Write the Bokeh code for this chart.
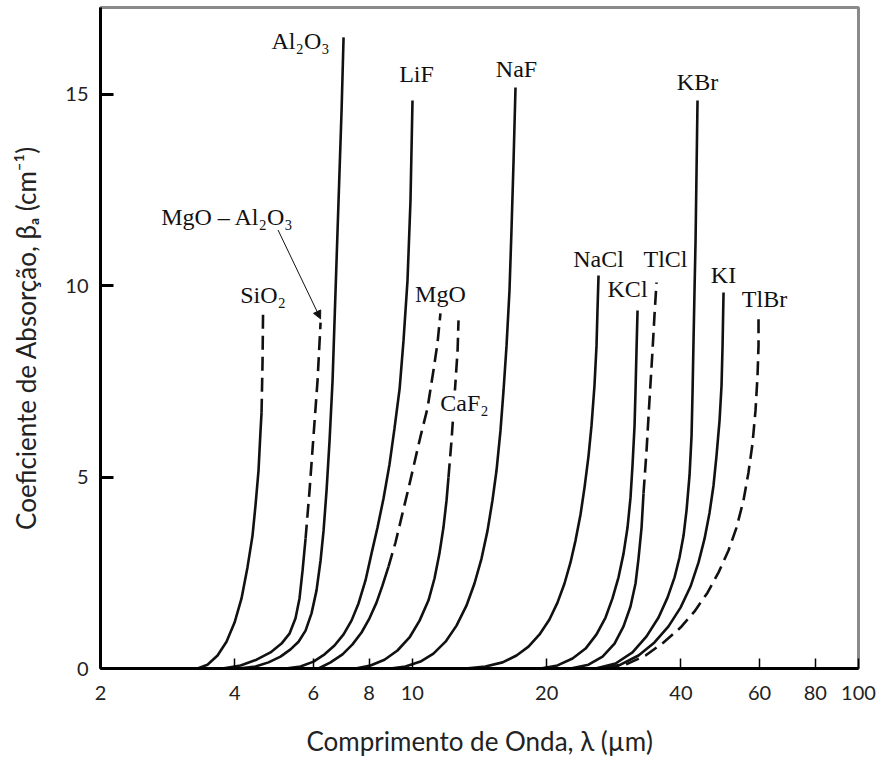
from bokeh.plotting import figure
from bokeh.models import Range1d, FixedTicker, PrintfTickFormatter, Label, Arrow, NormalHead
from bokeh.embed import file_html
from bokeh.resources import INLINE

# Absorption edges of infrared window materials:
# wavelength (µm) and absorption coefficient beta_a (cm^-1) along each curve.
SIO2_LAM = [3.30, 3.474, 3.659, 3.832, 3.995, 4.141, 4.270, 4.383, 4.451, 4.521,
            4.568, 4.592, 4.616, 4.628]
SIO2_BETA = [0.00, 0.10, 0.34, 0.70, 1.20, 1.83, 2.64, 3.47, 4.26, 5.17,
             6.21, 6.68, 8.04, 9.30]

SPINEL_LAM = [3.754, 4.120, 4.475, 4.809, 5.090, 5.304, 5.472, 5.586, 5.675, 5.763,
              5.883, 6.005, 6.131, 6.227]
SPINEL_BETA = [0.00, 0.08, 0.23, 0.42, 0.65, 0.91, 1.31, 1.83, 2.56, 3.39,
               4.65, 6.08, 7.52, 9.03]

AL2O3_LAM = [4.077, 4.452, 4.760, 5.064, 5.333, 5.558, 5.763, 5.943, 6.099, 6.227,
             6.324, 6.423, 6.523, 6.625, 6.728, 6.833, 6.940, 7.012]
AL2O3_BETA = [0.00, 0.05, 0.16, 0.31, 0.50, 0.70, 0.99, 1.44, 2.04, 2.82,
              3.60, 4.65, 5.95, 7.52, 9.87, 12.22, 14.57, 16.48]

LIF_LAM = [5.196, 5.615, 6.005, 6.357, 6.692, 7.012, 7.305, 7.574, 7.852, 8.099,
           8.354, 8.617, 8.888, 9.120, 9.365, 9.554, 9.753, 9.905, 10.008]
LIF_BETA = [0.00, 0.05, 0.18, 0.37, 0.60, 0.89, 1.25, 1.70, 2.30, 3.00,
            3.68, 4.44, 5.33, 6.27, 7.31, 8.56, 10.13, 12.22, 14.83]

MGO_LAM = [6.163, 6.557, 6.975, 7.343, 7.693, 8.016, 8.311, 8.573, 8.842, 9.167,
           9.503, 9.803, 10.11, 10.43, 10.81, 11.15, 11.39, 11.56]
MGO_BETA = [0.00, 0.16, 0.37, 0.63, 0.94, 1.31, 1.72, 2.17, 2.66, 3.29,
            4.05, 4.70, 5.38, 6.06, 6.79, 7.78, 8.51, 9.27]

CAF2_LAM = [7.458, 8.057, 8.662, 9.261, 9.854, 10.38, 10.87, 11.21, 11.50, 11.74,
            11.93, 12.05, 12.24, 12.37, 12.50, 12.63, 12.69]
CAF2_BETA = [0.00, 0.08, 0.23, 0.47, 0.81, 1.25, 1.78, 2.35, 3.00, 3.68,
             4.39, 4.99, 5.95, 6.74, 7.52, 8.30, 9.09]

NAF_LAM = [8.934, 9.653, 10.43, 11.15, 11.87, 12.56, 13.22, 13.78, 14.29, 14.74,
           15.12, 15.44, 15.76, 16.01, 16.26, 16.51, 16.68, 16.86, 17.03]
NAF_BETA = [0.00, 0.05, 0.18, 0.39, 0.70, 1.12, 1.64, 2.22, 2.87, 3.60,
            4.39, 5.17, 6.21, 7.26, 8.43, 9.87, 11.44, 13.26, 15.17]

NACL_LAM = [13.16, 14.58, 15.93, 17.12, 18.21, 19.28, 20.29, 21.15, 21.93, 22.62,
            23.21, 23.82, 24.32, 24.82, 25.21, 25.60, 25.87, 26.00, 26.14]
NACL_BETA = [0.00, 0.05, 0.16, 0.34, 0.57, 0.89, 1.28, 1.72, 2.22, 2.77,
             3.34, 4.02, 4.73, 5.54, 6.34, 7.39, 8.43, 9.35, 10.26]

KCL_LAM = [19.38, 21.15, 22.86, 24.45, 25.87, 27.10, 28.09, 28.98, 29.74, 30.36,
           30.83, 31.15, 31.48, 31.64, 31.80, 31.97]
KCL_BETA = [0.00, 0.08, 0.26, 0.52, 0.89, 1.33, 1.83, 2.38, 3.00, 3.68,
            4.46, 5.30, 6.34, 7.26, 8.30, 9.35]

TLCL_LAM = [22.62, 24.82, 26.69, 28.39, 29.74, 30.83, 31.64, 32.13, 32.64, 32.97,
            33.49, 34.00, 34.54, 34.89, 35.26]
TLCL_BETA = [0.00, 0.10, 0.31, 0.65, 1.10, 1.62, 2.22, 2.87, 3.68, 4.57,
             5.69, 7.00, 8.30, 9.22, 10.08]

KBR_LAM = [25.74, 28.54, 31.15, 33.49, 35.63, 37.32, 38.70, 39.70, 40.54, 41.17,
           41.81, 42.25, 42.46, 42.68, 42.90, 43.13, 43.35, 43.57]
KBR_BETA = [0.00, 0.13, 0.42, 0.84, 1.33, 1.85, 2.38, 2.90, 3.47, 4.13,
            5.04, 6.08, 7.18, 8.56, 9.87, 11.17, 13.00, 14.83]

KI_LAM = [26.41, 29.28, 32.13, 34.89, 37.51, 39.91, 42.02, 43.80, 45.18, 46.36,
          47.32, 48.06, 48.82, 49.32, 49.58, 49.83]
KI_BETA = [0.00, 0.10, 0.34, 0.68, 1.10, 1.59, 2.14, 2.77, 3.39, 4.07,
           4.78, 5.56, 6.48, 7.39, 8.43, 9.82]

TLBR_LAM = [27.10, 30.05, 33.32, 36.56, 39.91, 42.90, 45.88, 48.57, 51.12, 53.28,
            55.24, 56.68, 57.86, 58.77, 59.39, 59.69, 59.69]
TLBR_BETA = [0.00, 0.10, 0.34, 0.68, 1.07, 1.49, 1.98, 2.51, 3.08, 3.68,
             4.39, 5.12, 5.87, 6.74, 7.65, 8.43, 9.27]

NAMES = ["SiO₂", "MgO – Al₂O₃", "Al₂O₃", "LiF", "MgO", "CaF₂", "NaF",
         "NaCl", "KCl", "TlCl", "KBr", "KI", "TlBr"]

X_TICKS = [2, 4, 6, 8, 10, 20, 40, 60, 80, 100]
Y_TICKS = [0, 5, 10, 15]

curves = dict(zip(NAMES, [
    (SIO2_LAM, SIO2_BETA), (SPINEL_LAM, SPINEL_BETA), (AL2O3_LAM, AL2O3_BETA),
    (LIF_LAM, LIF_BETA), (MGO_LAM, MGO_BETA), (CAF2_LAM, CAF2_BETA),
    (NAF_LAM, NAF_BETA), (NACL_LAM, NACL_BETA), (KCL_LAM, KCL_BETA),
    (TLCL_LAM, TLCL_BETA), (KBR_LAM, KBR_BETA), (KI_LAM, KI_BETA),
    (TLBR_LAM, TLBR_BETA),
]))

# beta above which a curve is drawn dashed (extrapolated part)
DASH_FROM = {"SiO₂": 6.68, "MgO – Al₂O₃": 3.39, "MgO": 2.66, "CaF₂": 4.99,
             "TlCl": 4.57, "TlBr": 0.0}

# label placement relative to the top of each curve (screen px, right / down)
LABEL_OFFSET = {"SiO₂": (0, -17), "MgO – Al₂O₃": (-93, -106), "Al₂O₃": (-43, 4),
                "LiF": (4, -27), "MgO": (0, -19), "CaF₂": (6, 83), "NaF": (1, -19),
                "NaCl": (0, -17), "KCl": (-10, -21), "TlCl": (9, -23),
                "KBr": (0, -19), "KI": (0, -17), "TlBr": (6, -14)}

SERIF = "Liberation Serif"
SANS = "Lato"
INK = "#111111"

p = figure(width=888, height=760, x_axis_type="log",
           x_range=Range1d(2, 100), y_range=Range1d(0, 17.26),
           output_backend="svg", toolbar_location=None,
           min_border_left=100, min_border_right=30,
           min_border_top=7, min_border_bottom=92)

p.grid.visible = False
p.outline_line_color = "#8a8a8a"
p.outline_line_width = 3
p.background_fill_color = "white"
p.border_fill_color = "white"

for name, (lam, beta) in curves.items():
    cut = DASH_FROM.get(name)
    if cut is None:
        p.line(lam, beta, line_color=INK, line_width=2.6)
        continue
    solid = [(l, b) for l, b in zip(lam, beta) if b <= cut]
    dashed = [(l, b) for l, b in zip(lam, beta) if b >= cut]
    if len(solid) > 1:
        p.line([s[0] for s in solid], [s[1] for s in solid],
               line_color=INK, line_width=2.6)
    p.line([d[0] for d in dashed], [d[1] for d in dashed],
           line_color=INK, line_width=2.6, line_dash="14 7")

for name, (lam, beta) in curves.items():
    dx, dy = LABEL_OFFSET[name]
    kw = {}
    if name == "CaF₂":
        kw = dict(background_fill_color="white")
    p.add_layout(Label(x=lam[-1], y=beta[-1], x_offset=dx, y_offset=-dy,
                       text=name, text_align="center", text_baseline="middle",
                       text_font=SERIF, text_font_size="24px", text_color=INK, **kw))

# pointer from the spinel label to its curve
top_lam, top_beta = curves["MgO – Al₂O₃"][0][-1], curves["MgO – Al₂O₃"][1][-1]
p.add_layout(Arrow(end=NormalHead(size=8, fill_color=INK, line_color=INK),
                   x_start=5.0, y_start=11.45, x_end=top_lam, y_end=top_beta + 0.1,
                   line_color=INK, line_width=1))

for ax in (p.xaxis[0], p.yaxis[0]):
    ax.axis_line_width = 3
    ax.axis_line_color = "black"
    ax.major_tick_out = 0
    ax.minor_tick_line_color = None
    ax.major_label_text_font = SANS
    ax.major_label_text_font_size = "20px"
    ax.major_label_text_color = "#222222"
    ax.axis_label_text_font = SANS
    ax.axis_label_text_font_style = "normal"
    ax.axis_label_text_color = "#222222"

p.xaxis.ticker = FixedTicker(ticks=X_TICKS)
p.xaxis.formatter = PrintfTickFormatter(format="%d")
p.xaxis.major_tick_in = 10
p.xaxis.major_tick_line_width = 1.5
p.xaxis.major_label_standoff = 17
p.xaxis.axis_label = "Comprimento de Onda, λ (µm)"
p.xaxis.axis_label_text_font_size = "26px"
p.xaxis.axis_label_standoff = 22

p.yaxis.ticker = FixedTicker(ticks=Y_TICKS)
p.yaxis.major_tick_in = 13
p.yaxis.major_tick_line_width = 3
p.yaxis.major_label_standoff = 12
p.yaxis.axis_label = "Coeficiente de Absorção, βₐ (cm⁻¹)"
p.yaxis.axis_label_text_font_size = "26px"
p.yaxis.axis_label_standoff = 20

open("out.html", "w").write(file_html(p, INLINE))
